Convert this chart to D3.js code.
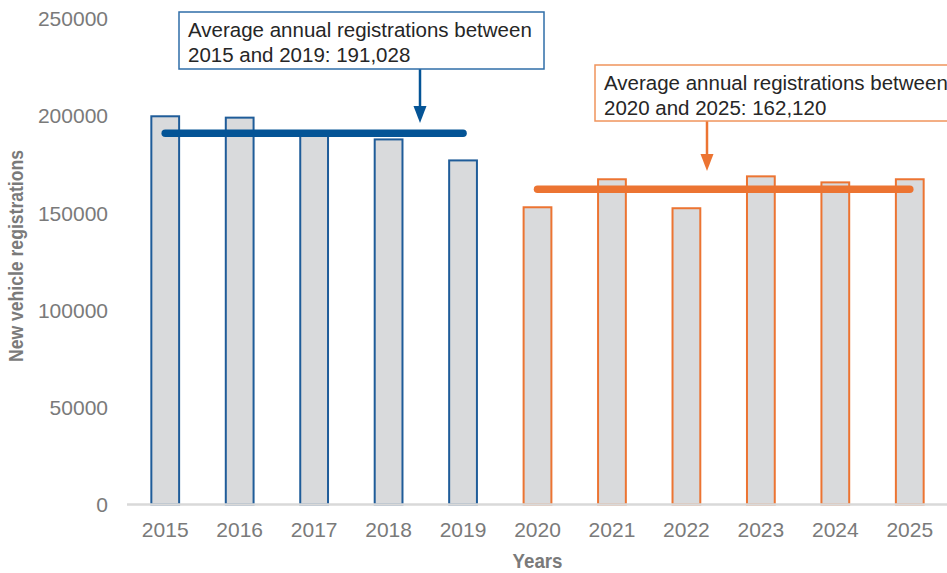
<!DOCTYPE html>
<html>
<head>
<meta charset="utf-8">
<script src="https://cdn.jsdelivr.net/npm/d3@7.9.0/dist/d3.min.js"></script>
<style>
  html, body { margin: 0; padding: 0; background: #fff; }
  svg { display: block; }
  .tick text { font-family: "Liberation Sans", Arial, sans-serif; fill: #7a7a7a; }
  .axis-title { font-family: "Liberation Sans Narrow", "Liberation Sans", Arial, sans-serif; font-weight: bold; fill: #7a7a7a; }
  .note { font-family: "Liberation Sans", Arial, sans-serif; fill: #262626; font-size: 20.5px; }
</style>
</head>
<body>
<div id="chart"></div>
<script>
// data
const years = ['2015', '2016', '2017', '2018', '2019', '2020', '2021', '2022', '2023', '2024', '2025'];
const registrations = [199700, 199000, 190600, 187800, 177000, 152900, 167300, 152400, 168800, 165700, 167300];
const yTicks = [0, 50000, 100000, 150000, 200000, 250000];

const earlyYears = ['2015', '2016', '2017', '2018', '2019'];
const lateYears = ['2020', '2021', '2022', '2023', '2024', '2025'];
const earlyAverage = 191028;
const lateAverage = 162120;

const earlyNote = ['Average annual registrations between', '2015 and 2019: 191,028'];
const lateNote = ['Average annual registrations between', '2020 and 2025: 162,120'];

const blue = '#1f5c99';
const blueLine = '#045496';
const orange = '#ec7432';

const width = 947;
const height = 573;
const margin = { top: 18.5, right: 0, bottom: 68.5, left: 128 };

const svg = d3.select('#chart')
  .append('svg')
  .attr('width', width)
  .attr('height', height)
  .attr('viewBox', `0 0 ${width} ${height}`);

const x = d3.scaleBand()
  .domain(years)
  .range([margin.left, width - margin.right])
  .paddingInner(0.6)
  .paddingOuter(0.3);

const y = d3.scaleLinear()
  .domain([0, 250000])
  .range([height - margin.bottom, margin.top]);

const isEarly = (yr) => earlyYears.includes(yr);

// Bars
svg.append('g')
  .selectAll('rect')
  .data(years.map((yr, i) => ({ year: yr, value: registrations[i] })))
  .join('rect')
  .attr('x', (d) => x(d.year) + 1)
  .attr('y', (d) => y(d.value))
  .attr('width', x.bandwidth() - 2)
  .attr('height', (d) => y(0) - y(d.value))
  .attr('fill', '#d9dadc')
  .attr('stroke', (d) => (isEarly(d.year) ? blue : orange))
  .attr('stroke-width', 2);

// X axis
const xAxis = svg.append('g')
  .attr('transform', `translate(0, ${y(0)})`)
  .call(d3.axisBottom(x).tickSize(0).tickPadding(18));
xAxis.select('.domain')
  .attr('d', `M${margin.left - 1},0H${width}`)
  .attr('stroke', '#d9d9d9')
  .attr('stroke-width', 2.5);
xAxis.selectAll('.tick text').attr('font-size', 21);

// Y axis
const yAxis = svg.append('g')
  .attr('transform', `translate(${margin.left}, 0)`)
  .call(d3.axisLeft(y).tickValues(yTicks).tickFormat(d3.format('d')).tickSize(0).tickPadding(20));
yAxis.select('.domain').remove();
yAxis.selectAll('.tick text').attr('font-size', 21).attr('dy', '0.34em');

// Axis titles (squeezed to mimic the condensed face)
svg.append('text')
  .attr('class', 'axis-title')
  .attr('x', (x(years[5]) + x.bandwidth() / 2))
  .attr('y', 568)
  .attr('text-anchor', 'middle')
  .attr('font-size', 21)
  .attr('textLength', 50)
  .attr('lengthAdjust', 'spacingAndGlyphs')
  .text('Years');

svg.append('text')
  .attr('class', 'axis-title')
  .attr('transform', 'translate(23, 256) rotate(-90)')
  .attr('text-anchor', 'middle')
  .attr('font-size', 20.5)
  .attr('textLength', 212)
  .attr('lengthAdjust', 'spacingAndGlyphs')
  .text('New vehicle registrations');

// Average lines
function averageLine(group, value, color) {
  const first = group[0];
  const last = group[group.length - 1];
  svg.append('line')
    .attr('x1', x(first) + x.bandwidth() / 2)
    .attr('x2', x(last) + x.bandwidth() / 2)
    .attr('y1', y(value))
    .attr('y2', y(value))
    .attr('stroke', color)
    .attr('stroke-width', 7.5)
    .attr('stroke-linecap', 'round');
}
averageLine(earlyYears, earlyAverage, blueLine);
averageLine(lateYears, lateAverage, orange);

// Callouts
function callout(lines, box, arrowX, tipY, color, borderColor) {
  const g = svg.append('g');
  g.append('line')
    .attr('x1', arrowX)
    .attr('x2', arrowX)
    .attr('y1', box.y + box.h)
    .attr('y2', tipY - 12)
    .attr('stroke', color)
    .attr('stroke-width', 2.5);
  g.append('path')
    .attr('d', `M${arrowX - 6.5},${tipY - 17}L${arrowX + 6.5},${tipY - 17}L${arrowX},${tipY}Z`)
    .attr('fill', color);
  g.append('rect')
    .attr('x', box.x)
    .attr('y', box.y)
    .attr('width', box.w)
    .attr('height', box.h)
    .attr('fill', '#fff')
    .attr('stroke', borderColor)
    .attr('stroke-width', 1.5);
  g.selectAll('text.note')
    .data(lines)
    .join('text')
    .attr('class', 'note')
    .attr('x', box.x + 9)
    .attr('y', (d, i) => box.y + 24.5 + i * 25)
    .text((d) => d);
}

callout(earlyNote, { x: 179, y: 12, w: 365, h: 57 }, 420, 123, blueLine, '#2f6ea8');
callout(lateNote, { x: 595, y: 65, w: 370, h: 56 }, 707, 171, orange, '#f0945c');
</script>
</body>
</html>
